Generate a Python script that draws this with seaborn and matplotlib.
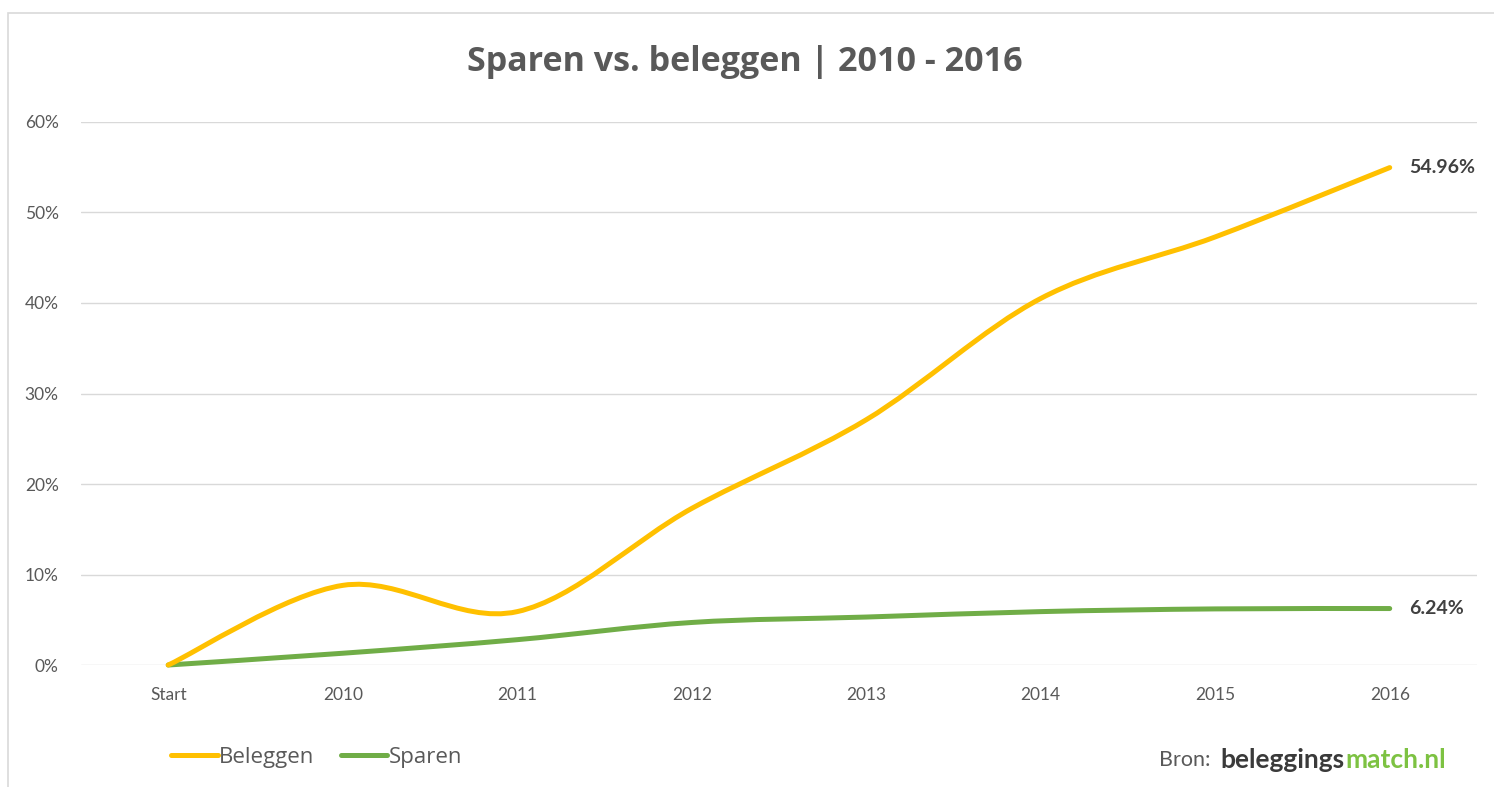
import matplotlib
matplotlib.use("Agg")
import matplotlib.pyplot as plt
from matplotlib.path import Path
from matplotlib.patches import PathPatch, Rectangle
from matplotlib.lines import Line2D
from matplotlib.ticker import FuncFormatter
import seaborn as sns
import pandas as pd

# Data (percent return since start)
categories = ["Start", "2010", "2011", "2012", "2013", "2014", "2015", "2016"]
beleggen = [0.0, 8.8, 5.9, 17.3, 27.1, 40.5, 47.3, 54.96]
sparen = [0.0, 1.3, 2.8, 4.7, 5.3, 5.9, 6.2, 6.24]
yticks = [0, 10, 20, 30, 40, 50, 60]

col_bel = "#FFC000"
col_spa = "#70AD47"
grey = "#595959"

sns.set_style("white")
plt.rcParams["font.family"] = ["Lato", "DejaVu Sans"]

df = pd.DataFrame({"cat": categories * 2,
                   "val": beleggen + sparen,
                   "serie": ["Beleggen"] * len(categories) + ["Sparen"] * len(categories)})

fig = plt.figure(figsize=(14.94, 7.87), dpi=100)
ax = fig.add_axes([0.0542, 0.155, 0.9344, 0.69])

# seaborn sets up the categorical axis, the curves are drawn smoothed like Excel
sns.lineplot(data=df, x="cat", y="val", hue="serie", palette=[col_bel, col_spa],
             lw=0, legend=False, ax=ax)


def smooth_path(xs, ys):
    # Catmull-Rom style bezier segments (Excel "smoothed line")
    pts = list(zip(xs, ys))
    verts = [pts[0]]
    codes = [Path.MOVETO]
    n = len(pts)
    for i in range(n - 1):
        p0 = pts[max(i - 1, 0)]
        p1 = pts[i]
        p2 = pts[i + 1]
        p3 = pts[min(i + 2, n - 1)]
        c1 = (p1[0] + (p2[0] - p0[0]) / 6, p1[1] + (p2[1] - p0[1]) / 6)
        c2 = (p2[0] - (p3[0] - p1[0]) / 6, p2[1] - (p3[1] - p1[1]) / 6)
        verts += [c1, c2, p2]
        codes += [Path.CURVE4] * 3
    return Path(verts, codes)


xpos = list(range(len(categories)))
for vals, col in [(sparen, col_spa), (beleggen, col_bel)]:
    patch = PathPatch(smooth_path(xpos, vals), fill=False, edgecolor=col, lw=3.6,
                      capstyle="round", joinstyle="round", clip_on=False, zorder=3)
    ax.add_patch(patch)

ax.set_xlim(-0.5, len(categories) - 0.5)
ax.set_ylim(0, 60)
ax.set_yticks(yticks)
ax.yaxis.set_major_formatter(FuncFormatter(lambda v, p: f"{v:.0f}%"))
ax.grid(axis="y", color="#D9D9D9", lw=1)
ax.set_axisbelow(True)
for s in ax.spines.values():
    s.set_visible(False)
ax.tick_params(axis="both", length=0, colors=grey, labelsize=12.5)
ax.tick_params(axis="y", pad=16)
ax.tick_params(axis="x", pad=16)
ax.set_xlabel("")
ax.set_ylabel("")

# end value labels
ax.annotate(f"{beleggen[-1]:.2f}%", (xpos[-1], beleggen[-1]), xytext=(14, 0),
            textcoords="offset points", va="center", ha="left",
            fontsize=14, fontweight="bold", color="#404040")
ax.annotate(f"{sparen[-1]:.2f}%", (xpos[-1], sparen[-1]), xytext=(14, 0),
            textcoords="offset points", va="center", ha="left",
            fontsize=14, fontweight="bold", color="#404040")

fig.text(0.4985, 0.921, "Sparen vs. beleggen | 2010 - 2016", ha="center", va="center",
         fontsize=24.5, fontweight="bold", color=grey, family=["Open Sans", "DejaVu Sans"])

handles = [Line2D([], [], color=col_bel, lw=3.6, solid_capstyle="round"),
           Line2D([], [], color=col_spa, lw=3.6, solid_capstyle="round")]
fig.legend(handles, ["Beleggen", "Sparen"], loc="center left", bbox_to_anchor=(0.107, 0.038),
           ncol=2, frameon=False, handlelength=2.1, handletextpad=0.05, columnspacing=1.2,
           prop={"family": ["Open Sans", "DejaVu Sans"], "size": 16}, labelcolor=grey,
           borderpad=0)

# source line
t1 = fig.text(0.776, 0.034, "Bron: ", ha="left", va="center", fontsize=15.5, color=grey)
fig.canvas.draw()
r = fig.canvas.get_renderer()
bb = t1.get_window_extent(r)
t2 = fig.text(bb.x1 / fig.bbox.width + 0.003, 0.034, "beleggings", ha="left", va="center",
              fontsize=19, fontweight="bold", color="#3A3A3A")
bb2 = t2.get_window_extent(r)
fig.text(bb2.x1 / fig.bbox.width, 0.034, "match.nl", ha="left", va="center",
         fontsize=19, fontweight="bold", color="#7DC242")

# light frame around the chart area
fig.patches.append(Rectangle((0.0054, -0.2), 1.2, 0.2 + 0.9835, transform=fig.transFigure,
                             fill=False, edgecolor="#D9D9D9", lw=1.2))

fig.savefig("out.png", dpi=100)
